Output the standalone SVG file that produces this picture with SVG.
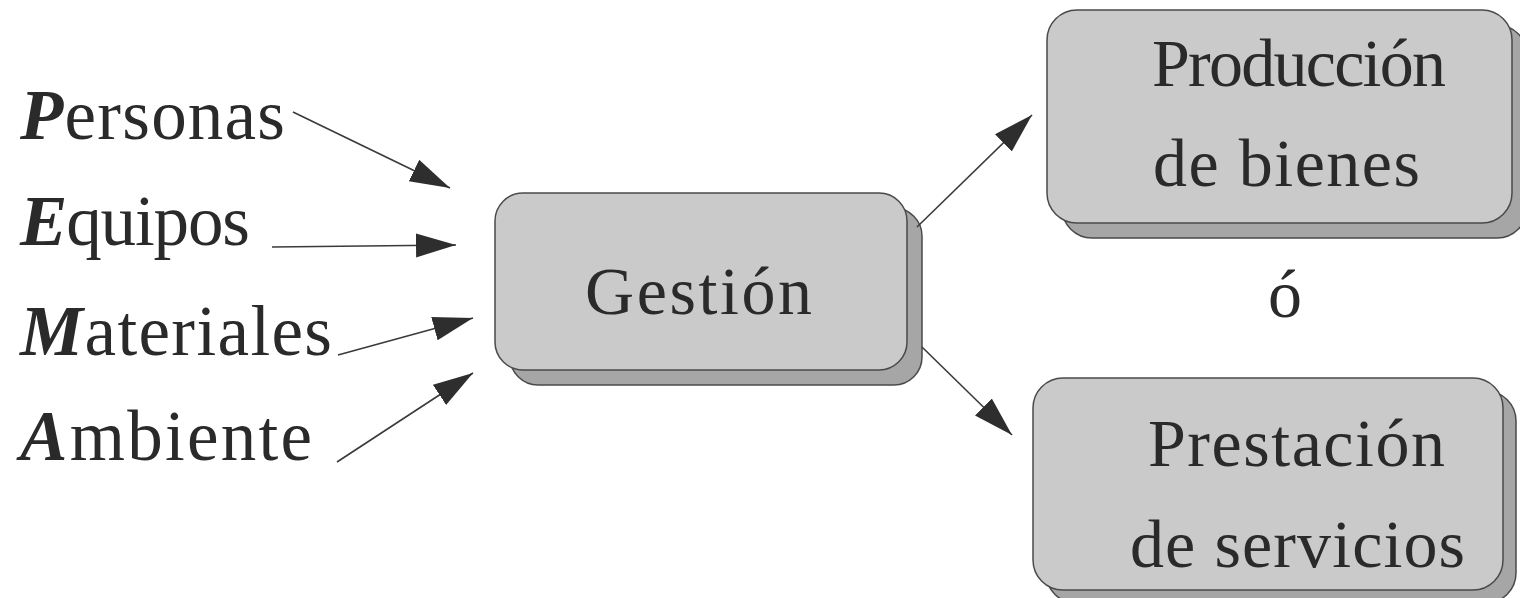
<svg xmlns="http://www.w3.org/2000/svg" width="1520" height="598" viewBox="0 0 1520 598">
  <style>
    .lbl { font-family: "Liberation Serif", "Times New Roman", serif; font-size: 71px; fill: #2a2a2a; }
    .ini { font-weight: bold; font-style: italic; }
    .bt { font-family: "Liberation Serif", "Times New Roman", serif; font-size: 68px; fill: #2a2a2a; }
    .face { fill: #cacaca; stroke: #4a4a4a; stroke-width: 1.5; }
    .shadow { fill: #a6a6a6; stroke: #4a4a4a; stroke-width: 1.5; }
    .conn { stroke: #3a3a3a; stroke-width: 1.6; fill: none; marker-end: url(#arrow); }
  </style>
  <defs>
    <marker id="arrow" markerUnits="userSpaceOnUse" markerWidth="42" markerHeight="26" refX="40" refY="12" orient="auto">
      <path d="M0,0 L40,12 L0,24 Z" fill="#2e2e2e"/>
    </marker>
  </defs>
  <rect width="1520" height="598" fill="#ffffff"/>

  <g id="inputs">
    <text id="personas" class="lbl" x="20" y="139" textLength="265" lengthAdjust="spacing"><tspan class="ini">P</tspan>ersonas</text>
    <text id="equipos" class="lbl" x="20" y="245" textLength="230" lengthAdjust="spacing"><tspan class="ini">E</tspan>quipos</text>
    <text id="materiales" class="lbl" x="20" y="355" textLength="312" lengthAdjust="spacing"><tspan class="ini">M</tspan>ateriales</text>
    <text id="ambiente" class="lbl" x="20" y="460" textLength="292" lengthAdjust="spacing"><tspan class="ini">A</tspan>mbiente</text>
  </g>

  <g id="gestion">
    <rect class="shadow" x="510" y="208" width="412" height="177" rx="28"/>
    <rect class="face" x="495" y="193" width="412" height="177" rx="28"/>
    <text class="bt" x="585" y="314" textLength="227" lengthAdjust="spacing">Gestión</text>
  </g>

  <g id="produccion">
    <rect class="shadow" x="1062" y="25" width="465" height="213" rx="30"/>
    <rect class="face" x="1047" y="10" width="465" height="213" rx="30"/>
    <text class="bt" x="1152" y="86" textLength="294" lengthAdjust="spacing">Producción</text>
    <text class="bt" x="1153" y="186" textLength="267" lengthAdjust="spacing">de bienes</text>
  </g>

  <g id="o">
    <text class="bt" x="1285" y="317" text-anchor="middle">ó</text>
  </g>

  <g id="prestacion">
    <rect class="shadow" x="1046" y="391" width="470" height="212" rx="30"/>
    <rect class="face" x="1033" y="378" width="470" height="212" rx="30"/>
    <text class="bt" x="1148" y="466" textLength="297" lengthAdjust="spacing">Prestación</text>
    <text class="bt" x="1130" y="567" textLength="335" lengthAdjust="spacing">de servicios</text>
  </g>

  <g id="connectors">
    <line class="conn" x1="293" y1="112" x2="450" y2="188"/>
    <line class="conn" x1="272" y1="247" x2="456" y2="245"/>
    <line class="conn" x1="338" y1="355" x2="473" y2="318"/>
    <line class="conn" x1="337" y1="462" x2="473" y2="373"/>
    <line class="conn" x1="917" y1="227" x2="1032" y2="115"/>
    <line class="conn" x1="922" y1="347" x2="1012" y2="435"/>
  </g>
</svg>
